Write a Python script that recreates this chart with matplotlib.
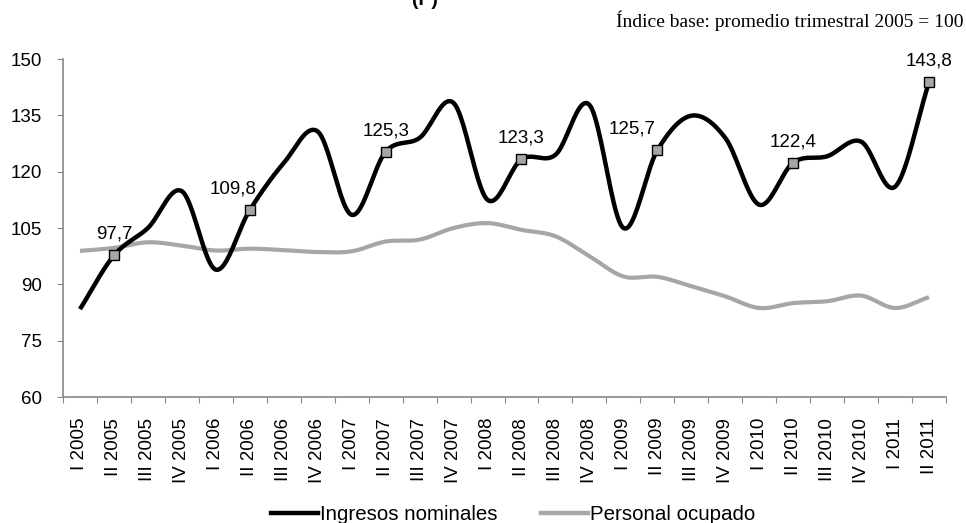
import numpy as np
import matplotlib
matplotlib.use("Agg")
import matplotlib.pyplot as plt
from matplotlib.lines import Line2D

quarters = ["I 2005", "II 2005", "III 2005", "IV 2005",
            "I 2006", "II 2006", "III 2006", "IV 2006",
            "I 2007", "II 2007", "III 2007", "IV 2007",
            "I 2008", "II 2008", "III 2008", "IV 2008",
            "I 2009", "II 2009", "III 2009", "IV 2009",
            "I 2010", "II 2010", "III 2010", "IV 2010",
            "I 2011", "II 2011"]
ingresos = [83.4, 97.7, 105.0, 114.8, 93.9, 109.8, 122.3, 130.7,
            108.5, 125.3, 129.0, 138.3, 112.5, 123.3, 124.5, 137.8,
            105.0, 125.7, 134.9, 129.0, 111.2, 122.4, 124.1, 128.0,
            116.0, 143.8]
personal = [98.9, 99.7, 101.2, 100.3, 99.0, 99.5, 99.1, 98.6,
            98.8, 101.4, 101.9, 105.0, 106.3, 104.5, 102.8, 97.5,
            92.1, 92.0, 89.5, 86.8, 83.7, 85.0, 85.5, 87.0,
            83.7, 86.6]
labeled_idx = [1, 5, 9, 13, 17, 21, 25]
yticks = [60, 75, 90, 105, 120, 135, 150]

plt.rcParams['font.family'] = ['Liberation Sans', 'DejaVu Sans']


def smooth(x, y, n=24, tension=0.5):
    x = np.asarray(x, float)
    y = np.asarray(y, float)
    px = np.concatenate([[2 * x[0] - x[1]], x, [2 * x[-1] - x[-2]]])
    py = np.concatenate([[2 * y[0] - y[1]], y, [2 * y[-1] - y[-2]]])
    xs, ys = [], []
    for i in range(1, len(px) - 2):
        p0x, p1x, p2x, p3x = px[i - 1:i + 3]
        p0y, p1y, p2y, p3y = py[i - 1:i + 3]
        m1x, m2x = tension * (p2x - p0x), tension * (p3x - p1x)
        m1y, m2y = tension * (p2y - p0y), tension * (p3y - p1y)
        t = np.linspace(0, 1, n, endpoint=False)
        h00 = 2 * t**3 - 3 * t**2 + 1
        h10 = t**3 - 2 * t**2 + t
        h01 = -2 * t**3 + 3 * t**2
        h11 = t**3 - t**2
        xs.append(h00 * p1x + h10 * m1x + h01 * p2x + h11 * m2x)
        ys.append(h00 * p1y + h10 * m1y + h01 * p2y + h11 * m2y)
    xs.append([x[-1]])
    ys.append([y[-1]])
    return np.concatenate(xs), np.concatenate(ys)


fig = plt.figure(figsize=(9.66, 5.23), dpi=100)
ax = fig.add_axes([63 / 966, 1 - 397 / 523, (946 - 63) / 966, (397 - 59) / 523])

x = np.arange(len(quarters))
gx, gy = smooth(x, personal)
ax.plot(gx, gy, color='#A6A6A6', lw=3.0, solid_capstyle='butt', zorder=2)
bx, by = smooth(x, ingresos)
ax.plot(bx, by, color='black', lw=3.2, solid_capstyle='butt', zorder=3)

lx = [x[i] for i in labeled_idx]
ly = [ingresos[i] for i in labeled_idx]
ax.plot(lx, ly, ls='none', marker='s', ms=7, mfc='#A6A6A6', mec='black',
        mew=1.0, zorder=4)
offsets = {5: -12, 17: -18}
for i in labeled_idx:
    ax.annotate(f"{ingresos[i]:.1f}".replace('.', ','), (x[i], ingresos[i]),
                xytext=(offsets.get(i, 0), 9), textcoords='offset points',
                ha='center', va='bottom', fontsize=13.5, zorder=5)

ax.set_xlim(-0.5, len(quarters) - 0.5)
ax.set_ylim(60, 150)
ax.set_yticks(yticks)
ax.set_yticklabels([str(v) for v in yticks], fontsize=13.5)
ax.set_xticks(np.arange(len(quarters) + 1) - 0.5)
ax.set_xticklabels([])
ax.set_xticks(x, minor=True)
ax.set_xticklabels(quarters, minor=True, rotation=90, fontsize=13.5,
                   va='top', ha='center')
ax.tick_params(axis='x', which='minor', length=0, pad=15)
ax.tick_params(axis='x', which='major', length=4, color='#888888', direction='out')
ax.tick_params(axis='y', length=4, color='#888888', pad=11)
for s in ['top', 'right']:
    ax.spines[s].set_visible(False)
for s in ['left', 'bottom']:
    ax.spines[s].set_color('#888888')
    ax.spines[s].set_linewidth(1.2)

fig.text(963 / 966, 1 - 21 / 523, "Índice base: promedio trimestral 2005 = 100",
         ha='right', va='center', fontsize=14, family=['Liberation Serif', 'DejaVu Serif'])
fig.text(425 / 966, 1 - 5 / 523, "(P)", ha='center', va='baseline',
         fontsize=14, fontweight='bold')

handles = [Line2D([], [], color='black', lw=3.2),
           Line2D([], [], color='#A6A6A6', lw=3.2)]
fig.legend(handles, ["Ingresos nominales", "Personal ocupado"],
           loc='lower center', bbox_to_anchor=(513 / 966, -0.037), ncol=2,
           frameon=False, fontsize=14.8, handlelength=2.3, handletextpad=0.1,
           columnspacing=2.1)

fig.savefig("out.png", dpi=100)
